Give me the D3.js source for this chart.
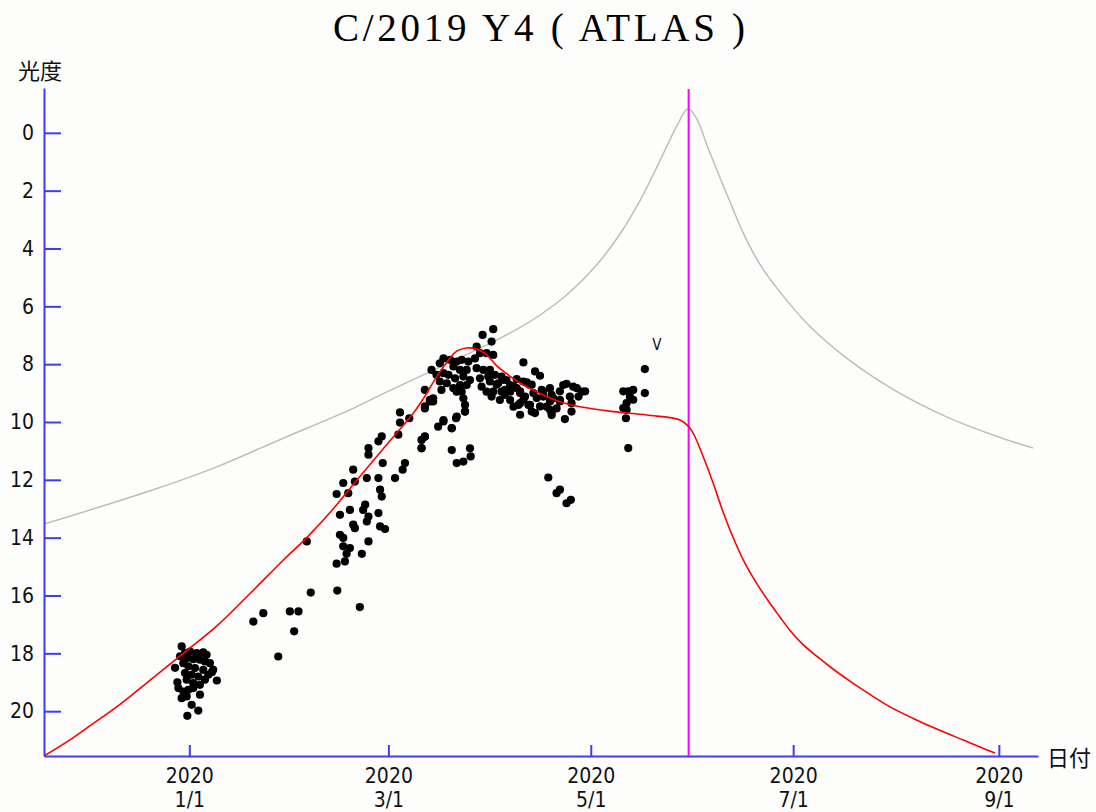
<!DOCTYPE html>
<html>
<head>
<meta charset="utf-8">
<script src="https://cdn.jsdelivr.net/npm/d3@7/dist/d3.min.js"></script>
<style>
  html, body { margin: 0; padding: 0; background: #fdfdfc; }
  svg { display: block; }
</style>
</head>
<body>
<svg id="chart" width="1096" height="812"></svg>
<script>
// ---------- DATA (days since 2020-01-01, magnitude) ----------
const chartTitle = "C/2019 Y4 ( ATLAS )";
const yLabel = "光度";
const xLabel = "日付";

const yTicks = [0, 2, 4, 6, 8, 10, 12, 14, 16, 18, 20];
const xTickDates = ["2020-01-01", "2020-03-01", "2020-05-01", "2020-07-01", "2020-09-01"];
const xTickLabels = [["2020", "1/1"], ["2020", "3/1"], ["2020", "5/1"], ["2020", "7/1"], ["2020", "9/1"]];

const xDomainDays = [-43.8, 255.8];
const yDomainMag = [-1.55, 21.55];
const perihelionDay = 150.5;
const visualMarker = [140.9, 7.33];

// predicted magnitude following observations (red)
const predictedFit = [
  [-43.8,21.55],[-36.1,21.0],[-29.9,20.5],[-21.8,19.84],[-15.8,19.3],[-11.8,18.93],[-1.8,18.0],
  [8.3,17.05],[18.3,15.93],[28.3,14.78],[35.4,14.0],[43.4,13.0],[48.4,12.3],[53.5,11.6],
  [58.5,10.92],[62.5,10.38],[67.5,9.7],[70.5,9.2],[75.6,8.25],[80.6,7.55],[83.6,7.44],
  [86.6,7.48],[89.6,7.68],[92.6,8.05],[97.6,8.49],[100.7,8.72],[105.7,9.01],[111.7,9.3],[117.8,9.47],
  [127.8,9.64],[137.9,9.76],[147.9,9.93],[150.7,10.18],[152.4,10.51],[154.9,11.2],[157.9,12.12],
  [160.9,13.12],[164.0,14.02],[167.5,14.89],[171.0,15.58],[175.0,16.27],[178.0,16.74],[181.0,17.2],
  [185.0,17.7],[189.1,18.1],[194.1,18.55],[200.1,19.04],[204.2,19.35],[211.2,19.85],[218.2,20.25],
  [225.3,20.62],[233.3,21.0],[240.3,21.33],[242.8,21.45]
];

// original predicted magnitude (gray)
const predictedOriginal = [
  [-43.8,13.53],[-11.8,12.38],[8.3,11.55],[28.3,10.56],[48.4,9.58],[57.5,9.07],[70.5,8.37],
  [90.6,7.28],[98.7,6.8],[105.7,6.3],[113.8,5.6],[122.9,4.55],[129.8,3.5],[135.8,2.35],
  [139.8,1.45],[144.0,0.45],[147.0,-0.25],[150.3,-0.83],[153.1,-0.45],[156.0,0.42],[160.0,1.56],
  [163.0,2.39],[166.9,3.45],[172.0,4.55],[178.0,5.5],[187.1,6.7],[198.2,7.8],[213.3,8.95],
  [228.4,9.83],[243.5,10.5],[254.3,10.9]
];

// observations
const obsJanuary = [
  [-2.3,17.76],[-1.3,17.99],[0.2,17.94],[2.2,17.99],[4.2,17.97],[5.2,18.05],[-0.6,18.16],[1.2,18.2],
  [3.2,18.22],[4.7,18.28],[6.2,18.34],[7.2,18.57],[8.3,18.94],[-1.8,18.34],[-0.3,18.45],[1.7,18.51],
  [4.2,18.57],[5.7,18.74],[4.7,18.91],[-1.3,18.68],[0.7,18.74],[2.7,18.8],[-0.8,18.91],[1.2,19.03],
  [3.2,19.09],[-3.3,19.2],[-1.8,19.32],[-0.3,19.26],[1.2,19.2],[3.2,19.43],[-2.3,19.55],[-0.8,19.49],
  [0.7,19.78],[2.7,19.98],[-0.6,20.16],[-4.3,18.5],[-3.6,19.0],[6.8,18.65],[2.5,18.1],[-2.8,18.1]
];
const obsFebruary = [
  [19.3,16.9],[22.3,16.61],[26.8,18.11],[30.3,16.55],[32.9,16.55],[31.6,17.24],[36.6,15.9],
  [35.4,14.13],[44.6,15.83],[51.4,16.4]
];
const obsMarch = [
  [63.5,9.67],[63.5,10.02],[66.3,9.87],[63,10.44],[58,10.5],[57,10.67],[54,10.9],[54,11.13],
  [58.3,11.42],[65,11.42],[64.3,11.65],[62,11.94],[57,11.94],[53.5,11.94],[49.4,11.65],[49.9,12.06],
  [46.4,12.11],[44.4,12.49],[47.9,12.46],[57.5,12.34],[58,12.58],[45.4,13.21],[48.4,13.04],[53,12.86],
  [52.4,13.04],[54,13.27],[53.5,13.44],[57,13.15],[49.4,13.55],[49.9,13.67],[57.5,13.61],[59,13.7],
  [45.4,13.9],[46.4,14.01],[54,14.13],[46.4,14.3],[48.4,14.36],[47.4,14.56],[52,14.56],[46.9,14.82],
  [44.4,14.9],[70,10.62],[70,10.9],[71,10.5],[71,9.46],[75,10.16],[76.6,9.98],[73.5,9.29],[72.5,9.23]
];
const obsPeak = [
  [91.6,6.79],[88.4,6.99],[91.1,7.22],[86.6,7.39],[87.6,7.62],[89.6,7.62],[91.6,7.68],[76.6,7.8],
  [78.6,7.85],[80.6,7.91],[82.1,7.85],[84.1,7.91],[86.1,7.8],[75.5,7.97],[79.6,8.08],[81.6,8.2],
  [83.6,8.2],[86.6,8.14],[88.6,8.2],[90.6,8.2],[73.0,8.2],[74.5,8.37],[76.6,8.31],[78.1,8.37],
  [80.1,8.49],[82.6,8.43],[84.6,8.55],[87.6,8.49],[90.1,8.43],[92.1,8.37],[94.1,8.43],[75.5,8.6],
  [77.6,8.66],[79.6,8.83],[81.6,8.72],[83.6,8.72],[88.1,8.78],[90.6,8.6],[93.1,8.66],[95.6,8.55],
  [96.7,8.72],[71.0,8.89],[76.0,8.89],[80.6,8.95],[82.1,8.95],[82.6,9.18],[83.1,9.41],[83.1,9.64],
  [72.5,9.29],[73.5,9.18],[71.0,9.53],[76.6,9.93],[79.1,10.22],[80.4,9.87],[71.0,10.51],[70.0,10.91],
  [79.1,10.97],[84.6,10.91],[94.1,8.95],[96.7,8.95],[98.7,8.83],[96.7,9.24],[97.7,9.47],[93.6,9.24],
  [95.1,9.06],[91.6,8.95],[91.1,9.12],[89.6,8.95],[80.6,11.42],[82.6,11.37],[84.8,11.19],[79.1,10.21],
  [80.6,9.81],[83.1,9.64]
];
const obsApril = [
  [100.7,7.94],[104.2,8.25],[105.7,8.4],[98.7,8.52],[101.7,8.63],[103.2,8.71],[94.6,8.54],[92.6,8.71],
  [95.2,8.89],[97.7,8.77],[99.7,8.94],[113.7,8.68],[116.8,8.83],[119.3,8.94],[111.7,8.94],[106.7,8.94],
  [109.2,9.06],[114.7,9.12],[117.3,9.12],[100.7,9.23],[104.7,9.17],[108.7,9.29],[111.7,9.23],[99.2,9.41],
  [102.7,9.41],[105.7,9.46],[115.2,9.35],[99.7,9.75],[104.2,9.69],[109.2,9.69],[113.2,9.9],[115.2,9.64],
  [106.2,8.89],[108.7,8.83],[112.7,8.72],[115.7,8.78],[118.3,8.95],[106.7,9.12],[109.7,9.18],[111.7,9.29],
  [107.7,9.47],[110.7,9.53],[99.7,9.35],[102.2,9.41],[103.2,9.64],[108.7,9.58],[109.2,9.76],[101.2,9.12],
  [103.7,9.0],[99.7,9.0],[102.7,8.72],[100.7,8.6]
];
const obsLateApril = [
  [108.2,11.92],[110.7,12.46],[111.7,12.34],[113.7,12.81],[115.0,12.69]
];
const obsMay = [
  [130.8,8.94],[132.3,8.94],[133.8,8.89],[132.8,9.12],[133.8,9.23],[131.8,9.35],[130.8,9.52],
  [131.8,9.58],[131.6,9.87],[132.3,10.9],[137.3,8.17],[137.3,9.0]
];

// ---------- DRAWING ----------
const W = 1096, H = 812;
const base = Date.UTC(2020, 0, 1);
const dayToDate = d => new Date(base + d * 864e5);

const svg = d3.select("#chart");
svg.append("rect").attr("width", W).attr("height", H).attr("fill", "#fdfdfc");

const x = d3.scaleUtc().domain(xDomainDays.map(dayToDate)).range([44, 1038]);
const y = d3.scaleLinear().domain(yDomainMag).range([88, 756]);

const axisColor = "#3c3cff";
const numFont = "'Liberation Sans Narrow', 'DejaVu Sans Condensed', 'Liberation Sans', sans-serif";
const cjkFont = "'Noto Sans CJK JP', 'Noto Sans CJK SC', sans-serif";

svg.append("defs").append("clipPath").attr("id", "plotClip")
  .append("rect").attr("x", 44).attr("y", 88).attr("width", 994).attr("height", 668);

const line = d3.line()
  .x(d => x(dayToDate(d[0])))
  .y(d => y(d[1]))
  .curve(d3.curveCatmullRom.alpha(0.5));

const plot = svg.append("g").attr("clip-path", "url(#plotClip)");

plot.append("path").datum(predictedOriginal)
  .attr("d", line).attr("fill", "none")
  .attr("stroke", "#bdbdbd").attr("stroke-width", 1.5);

// perihelion line
plot.append("line")
  .attr("x1", x(dayToDate(perihelionDay))).attr("x2", x(dayToDate(perihelionDay)))
  .attr("y1", y(yDomainMag[0]) + 1).attr("y2", y(yDomainMag[1]))
  .attr("stroke", "#ff00ff").attr("stroke-width", 2);

const allObs = [].concat(obsJanuary, obsFebruary, obsMarch, obsPeak, obsApril, obsLateApril, obsMay);
plot.append("g").selectAll("circle").data(allObs).join("circle")
  .attr("cx", d => x(dayToDate(d[0])))
  .attr("cy", d => y(d[1]))
  .attr("r", 4.1)
  .attr("fill", "#000");

plot.append("path").datum(predictedFit)
  .attr("d", line).attr("fill", "none")
  .attr("stroke", "#ff0000").attr("stroke-width", 1.6);

// V marker
svg.append("text")
  .attr("x", x(dayToDate(visualMarker[0])))
  .attr("y", y(visualMarker[1]) + 5)
  .attr("text-anchor", "middle")
  .attr("font-family", numFont)
  .attr("font-size", 15)
  .attr("fill", "#111")
  .text("V");

// Y axis
const yAxis = d3.axisLeft(y).tickValues(yTicks).tickSizeInner(-17).tickSizeOuter(0).tickPadding(10);
const gy = svg.append("g").attr("transform", "translate(44,0)").call(yAxis);
gy.select(".domain").attr("stroke", axisColor).attr("stroke-width", 2);
gy.selectAll(".tick line").attr("stroke", axisColor).attr("stroke-width", 2);
gy.selectAll(".tick text")
  .attr("font-family", numFont).attr("font-size", 21).attr("fill", "#111");

// X axis
const xAxis = d3.axisBottom(x).tickValues(xTickDates.map(s => new Date(s + "T00:00:00Z")))
  .tickSizeInner(-11).tickSizeOuter(0).tickFormat(() => "");
const gx = svg.append("g").attr("transform", "translate(0,756)").call(xAxis);
gx.select(".domain").attr("stroke", axisColor).attr("stroke-width", 2);
gx.selectAll(".tick line").attr("stroke", axisColor).attr("stroke-width", 2);
gx.selectAll(".tick text").remove();
gx.selectAll(".tick").each(function(d, i) {
  const t = d3.select(this).append("text")
    .attr("text-anchor", "middle")
    .attr("font-family", numFont).attr("font-size", 21).attr("fill", "#111");
  t.append("tspan").attr("x", 0).attr("y", 27).text(xTickLabels[i][0]);
  t.append("tspan").attr("x", 0).attr("y", 51).text(xTickLabels[i][1]);
});

// Axis titles
svg.append("text").attr("x", 18).attr("y", 79)
  .attr("font-family", cjkFont).attr("font-size", 22).attr("fill", "#111")
  .text(yLabel);
svg.append("text").attr("x", 1047).attr("y", 766)
  .attr("font-family", cjkFont).attr("font-size", 22).attr("fill", "#111")
  .text(xLabel);

// Title
svg.append("text").attr("x", 539).attr("y", 41)
  .attr("text-anchor", "middle")
  .attr("font-family", "'Liberation Serif', 'DejaVu Serif', serif")
  .attr("font-size", 39).attr("fill", "#000")
  .attr("textLength", 412).attr("lengthAdjust", "spacing")
  .text(chartTitle);
</script>
</body>
</html>
